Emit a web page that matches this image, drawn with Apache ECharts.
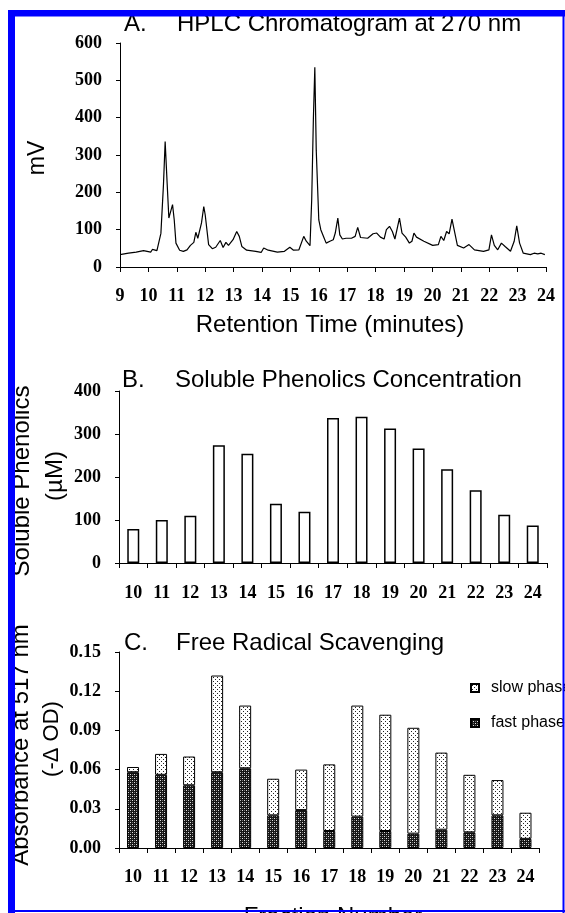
<!DOCTYPE html>
<html>
<head>
<meta charset="utf-8">
<script src="https://cdn.jsdelivr.net/npm/echarts@6/dist/echarts.min.js"></script>
<style>
html,body{margin:0;padding:0;background:#fff;}
#c{width:565px;height:913px;}
</style>
</head>
<body>
<div id="c"></div>
<script>
// ---- Panel A: HPLC chromatogram (retention time in minutes, mV) ----
const hplcTime = [9.0, 9.3, 9.57, 9.83, 10.08, 10.14, 10.3, 10.44, 10.53, 10.59, 10.66, 10.72, 10.78, 10.85, 10.91, 10.97, 11.1, 11.23, 11.36, 11.48, 11.6, 11.67, 11.74, 11.8, 11.87, 11.95, 12.0, 12.12, 12.25, 12.37, 12.53, 12.63, 12.73, 12.82, 12.98, 13.11, 13.2, 13.29, 13.46, 13.78, 13.97, 14.06, 14.22, 14.54, 14.79, 14.98, 15.11, 15.3, 15.47, 15.56, 15.69, 15.75, 15.81, 15.86, 15.91, 16.0, 16.07, 16.19, 16.26, 16.39, 16.51, 16.58, 16.67, 16.74, 16.83, 16.96, 17.15, 17.28, 17.37, 17.47, 17.72, 17.91, 18.04, 18.17, 18.3, 18.38, 18.49, 18.59, 18.68, 18.74, 18.84, 18.93, 19.06, 19.19, 19.28, 19.35, 19.44, 19.7, 20.01, 20.21, 20.3, 20.4, 20.5, 20.59, 20.69, 20.78, 20.88, 21.1, 21.29, 21.48, 21.8, 21.99, 22.08, 22.18, 22.3, 22.43, 22.56, 22.75, 22.88, 22.97, 23.07, 23.2, 23.45, 23.58, 23.71, 23.83, 23.96];
const hplcMV   = [33, 37, 40, 44, 40, 47, 44, 90, 220, 336, 224, 131, 126, 167, 126, 64, 45, 42, 46, 58, 66, 93, 77, 79, 118, 162, 140, 60, 49, 53, 71, 52, 66, 58, 73, 95, 82, 55, 45, 42, 39, 51, 45, 40, 42, 53, 45, 46, 82, 69, 57, 180, 400, 535, 313, 126, 100, 77, 64, 69, 73, 91, 131, 86, 75, 77, 77, 82, 106, 79, 77, 89, 91, 80, 75, 100, 109, 95, 75, 80, 131, 91, 80, 64, 69, 91, 80, 69, 58, 60, 82, 71, 95, 89, 128, 95, 58, 51, 60, 46, 42, 46, 86, 58, 46, 64, 55, 42, 69, 110, 64, 37, 33, 37, 35, 37, 33];

// ---- Panel B: soluble phenolics (µM) per fraction ----
const fractions = ['10','11','12','13','14','15','16','17','18','19','20','21','22','23','24'];
const phenolics = [79, 100, 110, 274, 254, 138, 119, 337, 340, 313, 266, 218, 169, 112, 87];

// ---- Panel C: free radical scavenging (-ΔOD at 517 nm) ----
const fastPhase = [0.058, 0.056, 0.048, 0.058, 0.061, 0.025, 0.029, 0.013, 0.024, 0.013, 0.011, 0.014, 0.012, 0.025, 0.007];
const slowPhase = [0.004, 0.016, 0.022, 0.074, 0.048, 0.028, 0.031, 0.051, 0.085, 0.089, 0.081, 0.059, 0.044, 0.027, 0.020];

const hplcData = hplcTime.map((t, i) => [t, hplcMV[i]]);

function makePattern(bg, fg, pts, size, fg2, pts2) {
  const cv = document.createElement('canvas');
  cv.width = size; cv.height = size;
  const ctx = cv.getContext('2d');
  ctx.fillStyle = bg; ctx.fillRect(0, 0, size, size);
  ctx.fillStyle = fg;
  pts.forEach(p => ctx.fillRect(p[0], p[1], 1, 1));
  if (fg2) { ctx.fillStyle = fg2; pts2.forEach(p => ctx.fillRect(p[0], p[1], 1, 1)); }
  return cv;
}
const fastPat = makePattern('#151515', '#e0e0e0', [[0,0],[2,2]], 4, '#707070', [[2,0],[0,2]]);
const slowPat = makePattern('#ffffff', '#222222', [[1,1],[3,3]], 4);

const tickFont = {fontFamily: 'Liberation Serif', fontWeight: 'bold', fontSize: 18, color: '#000'};
const axLine = {show: true, lineStyle: {color: '#000', width: 1}};
const SANS = 'Liberation Sans, Arial, sans-serif';

function txt(text, x, y, size, opts) {
  opts = opts || {};
  return {
    type: 'text', x: x, y: y, rotation: opts.rot || 0, z: 50,
    style: {text: text, x: 0, y: 0, fill: '#000', font: size + 'px ' + SANS,
      textAlign: opts.align || 'center', textVerticalAlign: 'middle'}
  };
}

const chart = echarts.init(document.getElementById('c'), null, {renderer: 'canvas'});
chart.setOption({
  animation: false,
  backgroundColor: '#fff',
  grid: [
    {left: 120, right: 19, top: 43, height: 224},
    {left: 119, right: 18, top: 391, height: 172},
    {left: 119, right: 25.5, top: 652, height: 196}
  ],
  xAxis: [
    {gridIndex: 0, type: 'value', min: 9, max: 24, interval: 1,
     axisLine: axLine, axisTick: {show: true, length: 5, lineStyle: {color: '#000'}},
     splitLine: {show: false}, axisLabel: Object.assign({margin: 20, hideOverlap: false, showMinLabel: true, showMaxLabel: true}, tickFont)},
    {gridIndex: 1, type: 'category', data: fractions, boundaryGap: true,
     axisLine: axLine, axisTick: {show: true, length: 5, alignWithLabel: false, lineStyle: {color: '#000'}},
     axisLabel: Object.assign({margin: 21, interval: 0}, tickFont)},
    {gridIndex: 2, type: 'category', data: fractions, boundaryGap: true,
     axisLine: axLine, axisTick: {show: true, length: 5, alignWithLabel: false, lineStyle: {color: '#000'}},
     axisLabel: Object.assign({margin: 20, interval: 0}, tickFont)}
  ],
  yAxis: [
    {gridIndex: 0, type: 'value', min: 0, max: 600, interval: 100,
     axisLine: axLine, axisTick: {show: true, length: 4, lineStyle: {color: '#000'}},
     splitLine: {show: false}, axisLabel: Object.assign({margin: 18}, tickFont)},
    {gridIndex: 1, type: 'value', min: 0, max: 400, interval: 100,
     axisLine: axLine, axisTick: {show: true, length: 4, lineStyle: {color: '#000'}},
     splitLine: {show: false}, axisLabel: Object.assign({margin: 18}, tickFont)},
    {gridIndex: 2, type: 'value', min: 0, max: 0.15, interval: 0.03,
     axisLine: axLine, axisTick: {show: true, length: 4, lineStyle: {color: '#000'}},
     splitLine: {show: false}, axisLabel: Object.assign({margin: 18, formatter: v => v.toFixed(2)}, tickFont)}
  ],
  legend: {
    show: true, orient: 'vertical', left: 470, top: 680, padding: 0, itemGap: 19,
    itemWidth: 8, itemHeight: 8, icon: 'rect',
    data: ['slow phase', 'fast phase'],
    textStyle: {fontFamily: SANS, fontSize: 16, color: '#000', padding: [0, 0, 0, 7]}
  },
  series: [
    {name: 'HPLC', type: 'line', xAxisIndex: 0, yAxisIndex: 0, data: hplcData,
     showSymbol: false, symbol: 'none', lineStyle: {color: '#000', width: 1.2}},
    {name: 'phenolics', type: 'bar', xAxisIndex: 1, yAxisIndex: 1, data: phenolics,
     barWidth: 12, itemStyle: {color: '#fff', borderColor: '#000', borderWidth: 1.5}},
    {name: 'fast phase', type: 'bar', xAxisIndex: 2, yAxisIndex: 2, stack: 'c', data: fastPhase,
     barWidth: 12, itemStyle: {color: {image: fastPat, repeat: 'repeat'}, borderColor: '#000', borderWidth: 1}},
    {name: 'slow phase', type: 'bar', xAxisIndex: 2, yAxisIndex: 2, stack: 'c', data: slowPhase,
     barWidth: 12, itemStyle: {color: {image: slowPat, repeat: 'repeat'}, borderColor: '#000', borderWidth: 1}}
  ],
  graphic: [
    txt('A.', 124, 24, 24, {align: 'left'}),
    txt('HPLC Chromatogram at 270 nm', 177, 24, 24, {align: 'left'}),
    txt('B.', 122, 380, 24, {align: 'left'}),
    txt('Soluble Phenolics Concentration', 175, 380, 24, {align: 'left'}),
    txt('C.', 124, 643, 24, {align: 'left'}),
    txt('Free Radical Scavenging', 176, 643, 24, {align: 'left'}),
    txt('mV', 38, 158, 23, {rot: Math.PI / 2}),
    txt('Retention Time (minutes)', 330, 325, 24),
    txt('Soluble Phenolics', 22, 481, 24, {rot: Math.PI / 2}),
    txt('(µM)', 55, 476, 24, {rot: Math.PI / 2}),
    txt('Absorbance at 517 nm', 21, 745, 24, {rot: Math.PI / 2}),
    txt('(-Δ OD)', 52, 739, 22, {rot: Math.PI / 2}),
    txt('Fraction Number', 333, 917, 24),
    // blue frame
    {type: 'rect', z: 100, shape: {x: 8, y: 10, width: 7, height: 903}, style: {fill: '#0000ff'}},
    {type: 'rect', z: 100, shape: {x: 8, y: 10, width: 557, height: 6.5}, style: {fill: '#0000ff'}},
    {type: 'rect', z: 100, shape: {x: 562.5, y: 10, width: 2, height: 903}, style: {fill: '#0000ff'}},
    {type: 'rect', z: 100, shape: {x: 8, y: 910, width: 557, height: 2}, style: {fill: '#0000ff'}}
  ]
});
</script>
</body>
</html>
